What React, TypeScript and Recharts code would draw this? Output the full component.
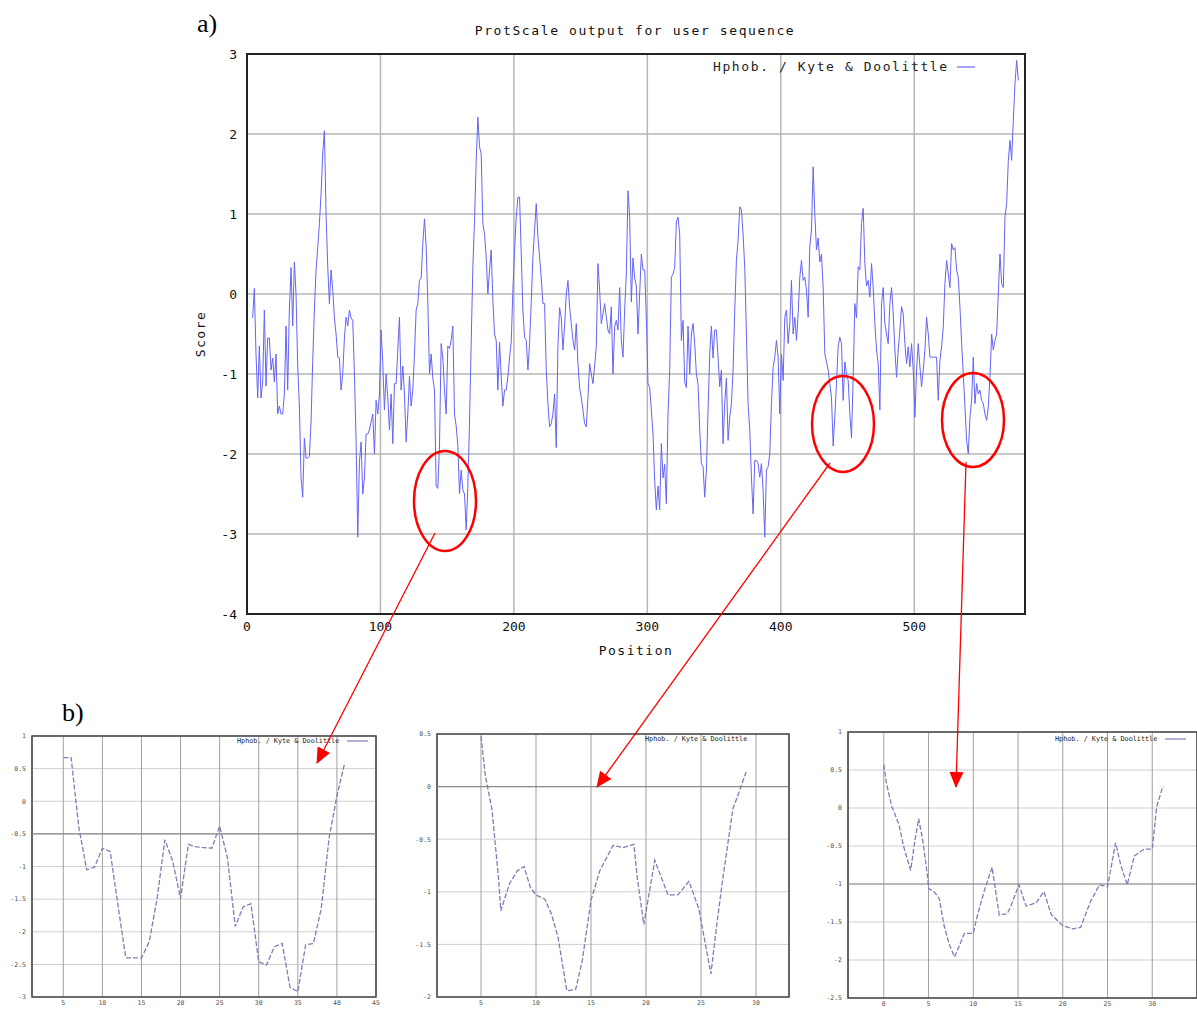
import {
  CartesianGrid,
  Legend,
  Line,
  LineChart,
  ReferenceArea,
  ReferenceLine,
  XAxis,
  YAxis,
} from "recharts";

// main profile: hydropathy score sampled every 1.25 residues from position 4.25
const START_POS = 4.25;
const POS_STEP = 1.25;
const scores = [
  -0.3, 0.07, -0.75, -1.3, -0.65, -1.3, -1.1, -0.2, -1.15, -0.55, -0.55, -0.95, -0.8, -1.1, -0.75, -1.5, -1.4, -1.5, -1.5, -1.25,
  -0.4, -1.2, -0.2, 0.33, -0.4, 0.4, 0.0, -0.9, -1.4, -2.3, -2.54, -1.8, -2.05, -2.05, -2.03, -1.6, -0.83, -0.2, 0.3, 0.58,
  0.88, 1.25, 1.75, 2.04, 1.0, 0.34, -0.12, 0.3, 0.05, -0.3, -0.5, -0.79, -0.8, -1.2, -1.0, -0.55, -0.29, -0.4, -0.2, -0.3,
  -0.33, -1.0, -1.83, -3.04, -2.1, -1.85, -2.5, -2.3, -1.75, -1.75, -1.7, -1.6, -1.5, -2.0, -1.33, -1.5, -1.25, -0.45, -0.87, -1.45,
  -1.0, -1.3, -1.7, -1.25, -1.87, -1.12, -1.12, -0.7, -0.29, -1.2, -0.9, -1.25, -1.85, -1.5, -1.03, -1.4, -1.2, -0.75, -0.2, -0.12,
  0.17, 0.2, 0.63, 0.94, 0.6, -0.1, -1.0, -0.75, -1.05, -1.2, -2.4, -2.43, -1.9, -0.62,
  -0.8, -1.2, -1.5, -0.65, -0.68, -0.58, -0.4, -1.5, -1.65, -1.9, -2.5, -2.2, -2.45, -2.5, -2.95, -2.4, -1.6, -0.6, 0.34, 0.92,
  1.67, 2.21, 1.84, 1.75, 0.88, 0.75, 0.46, 0.0, 0.3, 0.55, -0.08, -0.5, -0.58, -1.2, -0.6, -1.03, -1.4, -1.2, -1.2, -1.03,
  -0.8, -0.6, 0.05, 0.55, 0.96, 1.21, 1.21, 0.5, -0.2, -0.54, -0.58, -0.95, -0.62, -0.1, 0.46, 0.8, 1.13, 0.71, 0.46, 0.2,
  -0.12, -0.12, -0.95, -1.37, -1.66, -1.62, -1.5, -1.25, -1.92, -0.66, -0.17, -0.3, -0.7, -0.4, 0.0, 0.17, -0.16, -0.37, -0.58, -0.7,
  -0.37, -0.87, -1.17, -1.3, -1.45, -1.62, -1.66, -1.29, -0.87, -1.0, -1.12, -0.9, -0.66, 0.38, 0.05, -0.37, -0.25, -0.12, -0.29, -0.45,
  -0.5, -0.16, -1.0, -0.41, -0.33, -0.45, 0.08, -0.58, -0.79, -0.2, 0.25, 1.29, 0.96,
  -0.1, 0.45, 0.2, 0.1, -0.5, 0.0, 0.5, 0.3, 0.3, -0.3, -1.12, -1.17, -1.45, -1.75, -2.33, -2.7, -2.4, -2.7, -1.87, -2.3,
  -2.13, -2.62, -1.5, -0.95, 0.21, 0.25, 0.33, 0.9, 0.96, 0.75, -0.58, -0.33, -1.1, -1.17, -0.4, -1.0, -0.5, -0.37, -0.62, -1.0,
  -1.13, -1.7, -2.12, -2.16, -2.54, -2.2, -1.45, -0.75, -0.4, -0.8, -0.45, -0.45, -0.8, -1.16, -0.95, -1.87, -1.37, -1.05, -1.83, -1.54,
  -1.37, -0.95, -0.2, 0.42, 0.67, 1.09, 1.05, 0.75, 0.33, -0.5, -1.37, -1.7, -2.29, -2.75, -2.08, -2.08, -2.12, -2.29, -2.12, -2.45,
  -3.04, -2.2, -2.16, -2.0, -1.37, -0.92, -0.79, -0.58, -0.79, -1.5, -0.75, -1.08, -0.29, -0.2, -0.62, -0.37, 0.17, -0.5, -0.29, -0.58,
  -0.25, 0.21, 0.42, 0.17, 0.21, 0.05, -0.29,
  0.6, 0.8, 1.59, 1.0, 0.55, 0.7, 0.4, 0.5, 0.08, -0.75, -0.85, -0.95, -1.12, -1.3, -1.9, -1.53, -1.1, -0.66, -0.54, -0.62,
  -1.33, -0.85, -1.0, -1.08, -1.5, -1.8, -1.04, -0.12, -0.3, 0.34, 0.3, 0.88, 1.07, 0.38, 0.1, 0.17, -0.04, 0.38, 0.08, -0.37,
  -0.7, -0.87, -1.45, -0.12, 0.08, -0.37, -0.5, -0.62, -0.12, 0.08, -0.25, -0.7, -1.04, -0.7, -0.45, -0.16, -0.25, -0.62, -0.87, -0.66,
  -0.91, -0.62, -0.95, -1.54, -0.95, -0.62, -0.91, -1.16, -0.95, -0.7, -0.29, -0.5, -0.79, -0.79, -0.79, -0.79, -0.79, -1.33, -0.83, -0.66,
  -0.41, 0.13, 0.42, 0.25, 0.08, 0.63, 0.55, 0.58, 0.3, 0.21, -0.16, -0.62, -1.0, -1.41, -1.83, -2.0, -1.54, -1.33, -0.79, -1.37,
  -1.12, -1.25, -1.2, -1.33, -1.37, -1.5, -1.58, -1.41, -1.04, -0.5, -0.7, -0.58, -0.5, 0.0, 0.5, 0.13, 0.08, 0.96, 1.13, 1.67,
  1.92, 1.67, 2.17, 2.63, 2.92, 2.67,
];
const xTicks = [0, 100, 200, 300, 400, 500];
const yTicks = [-4, -3, -2, -1, 0, 1, 2, 3];
const SERIES = "Hphob. / Kyte & Doolittle";

// zoomed windows (b)
const win1Pos = [5, 6, 7, 8, 9, 10, 11, 12, 13, 14, 15, 16, 17, 18, 19, 20, 21, 22, 23, 24, 25, 26, 27, 28, 29, 30, 31, 32, 33, 34, 35, 36, 37, 38, 39, 40, 41];
const win1Score = [0.67, 0.67, -0.41, -1.05, -1.01, -0.72, -0.77, -1.6, -2.4, -2.4, -2.4, -2.15, -1.49, -0.59, -0.92, -1.49, -0.66, -0.7, -0.71, -0.72, -0.38, -0.87, -1.92, -1.62, -1.57, -2.46, -2.51, -2.23, -2.18, -2.85, -2.92, -2.2, -2.18, -1.64, -0.56, 0.08, 0.59];
const win1XTicks = [5, 10, 15, 20, 25, 30, 35, 40, 45];
const win1YTicks = [-3, -2.5, -2, -1.5, -1, -0.5, 0, 0.5, 1];

const win2Pos = [5, 5.4, 6, 6.6, 6.8, 7.6, 8.3, 8.9, 9.5, 10, 10.8, 11.4, 12, 12.8, 13.6, 14.2, 15, 15.8, 16.4, 17, 17.9, 18.9, 19.2, 19.8, 20.8, 22, 22.9, 23.9, 24.8, 25.9, 26.4, 27, 27.9, 28.3, 29.1];
const win2Score = [0.48, 0.1, -0.22, -0.88, -1.18, -0.92, -0.8, -0.76, -0.96, -1.03, -1.07, -1.21, -1.43, -1.94, -1.93, -1.66, -1.08, -0.8, -0.68, -0.56, -0.58, -0.55, -0.86, -1.31, -0.7, -1.03, -1.03, -0.9, -1.16, -1.78, -1.34, -0.86, -0.21, -0.1, 0.14];
const win2XTicks = [5, 10, 15, 20, 25, 30];
const win2YTicks = [-2, -1.5, -1, -0.5, 0, 0.5];

const win3Pos = [0, 0.3, 0.9, 1.7, 2.2, 3, 3.5, 3.9, 4.4, 4.9, 5, 5.6, 6.2, 6.7, 7.3, 7.9, 8.6, 9, 10, 10.4, 11.2, 12.1, 12.9, 13.8, 14.2, 15.1, 15.9, 17, 17.9, 18.7, 20, 21.1, 22, 23.1, 24.1, 25, 25.9, 26.5, 27.2, 28, 29.1, 30, 30.5, 31.2];
const win3Score = [0.57, 0.32, 0.02, -0.22, -0.5, -0.82, -0.41, -0.14, -0.46, -0.91, -1.06, -1.1, -1.19, -1.53, -1.79, -1.96, -1.77, -1.65, -1.65, -1.44, -1.1, -0.78, -1.41, -1.39, -1.29, -1.01, -1.29, -1.25, -1.1, -1.4, -1.55, -1.59, -1.57, -1.23, -1.01, -1.04, -0.46, -0.76, -1.01, -0.63, -0.54, -0.54, 0.02, 0.29];
const win3XTicks = [0, 5, 10, 15, 20, 25, 30];
const win3YTicks = [-2.5, -2, -1.5, -1, -0.5, 0, 0.5, 1];

const MONO = "'DejaVu Sans Mono', 'Liberation Mono', monospace";
const SERIF = "'Liberation Serif', 'DejaVu Serif', serif";
const LINE_BLUE = "#6464f6";
const ZOOM_LINE = "#7e7eb4";

const mainData = scores.map((score, i) => ({ pos: START_POS + i * POS_STEP, score }));

const legendContent =
  (fontSize: number, spacing: number, sampleWidth: number, color: string, dashed: boolean) =>
  (props: any) => (
    <div
      style={{
        display: "flex",
        alignItems: "center",
        fontFamily: MONO,
        fontSize,
        letterSpacing: spacing,
        color: "#222",
        whiteSpace: "nowrap",
      }}
    >
      <span>{props.payload?.[0]?.value}</span>
      {sampleWidth > 0 && (
        <svg width={sampleWidth + 8} height={6} style={{ marginLeft: 2 }}>
          <line
            x1={6}
            x2={sampleWidth + 6}
            y1={3}
            y2={3}
            stroke={color}
            strokeWidth={1.2}
            strokeDasharray={dashed ? "3 1" : undefined}
          />
        </svg>
      )}
    </div>
  );

const MainChart = () => (
  <LineChart width={870} height={680} data={mainData} margin={{ top: 54, right: 25, bottom: 16, left: 17 }}>
    <CartesianGrid stroke="#b6b6b6" strokeWidth={1.5} />
    <XAxis
      type="number"
      dataKey="pos"
      domain={[0, 583]}
      ticks={xTicks}
      allowDataOverflow
      height={50}
      tickLine={false}
      axisLine={false}
      tick={{ fontFamily: MONO, fontSize: 13, fill: "#111" }}
      label={{
        content: (p: any) => (
          <text
            x={p.viewBox.x + p.viewBox.width / 2}
            y={p.viewBox.y + 41}
            textAnchor="middle"
            fontFamily={MONO}
            fontSize={13}
            letterSpacing={1.5}
            fill="#111"
          >
            Position
          </text>
        ),
      }}
    />
    <YAxis
      type="number"
      domain={[-4, 3]}
      ticks={yTicks}
      width={50}
      tickLine={false}
      axisLine={false}
      tickMargin={4}
      tick={{ fontFamily: MONO, fontSize: 13, fill: "#111" }}
      label={{
        content: (p: any) => {
          const x = p.viewBox.x + 8;
          const y = p.viewBox.y + p.viewBox.height / 2;
          return (
            <text
              x={x}
              y={y}
              transform={`rotate(-90, ${x}, ${y})`}
              textAnchor="middle"
              fontFamily={MONO}
              fontSize={13}
              letterSpacing={1.5}
              fill="#111"
            >
              Score
            </text>
          );
        },
      }}
    />
    <ReferenceArea x1={0} x2={583} y1={-4} y2={3} fill="none" stroke="#222" strokeWidth={2} />
    <Legend
      layout="horizontal"
      verticalAlign="middle"
      align="center"
      wrapperStyle={{ left: 533, top: 59, width: "auto", height: "auto" }}
      content={legendContent(13, 1.6, 18, LINE_BLUE, false)}
    />
    <Line
      type="linear"
      dataKey="score"
      name={SERIES}
      stroke={LINE_BLUE}
      strokeWidth={1}
      dot={false}
      isAnimationActive={false}
    />
  </LineChart>
);

interface PanelProps {
  width: number;
  height: number;
  margin: { top: number; right: number; bottom: number; left: number };
  xs: number[];
  ys: number[];
  xDomain: [number, number];
  yDomain: [number, number];
  xTicks: number[];
  yTicks: number[];
  strongY: number;
  legendLeft: number;
  legendTop: number;
  sample: number;
}

const ZoomPanel = ({
  width,
  height,
  margin,
  xs,
  ys,
  xDomain,
  yDomain,
  xTicks: xt,
  yTicks: yt,
  strongY,
  legendLeft,
  legendTop,
  sample,
}: PanelProps) => {
  const data = xs.map((x, i) => ({ x, y: ys[i] }));
  const tickStyle = { fontFamily: MONO, fontSize: 6.5, fill: "#555" };
  return (
    <LineChart width={width} height={height} data={data} margin={margin}>
      <CartesianGrid vertical={false} stroke="#cfcfcf" strokeWidth={1} />
      <CartesianGrid horizontal={false} stroke="#a0a0a0" strokeWidth={1} />
      <XAxis
        type="number"
        dataKey="x"
        domain={xDomain}
        ticks={xt}
        allowDataOverflow
        height={12}
        tickLine={false}
        axisLine={false}
        tickSize={2}
        tickMargin={1}
        tick={tickStyle}
      />
      <YAxis
        type="number"
        domain={yDomain}
        ticks={yt}
        allowDataOverflow
        width={28}
        tickLine={false}
        axisLine={false}
        tickSize={3}
        tickMargin={3}
        tick={tickStyle}
      />
      <ReferenceLine y={strongY} stroke="#8a8a8a" strokeWidth={1.2} />
      <ReferenceArea
        x1={xDomain[0]}
        x2={xDomain[1]}
        y1={yDomain[0]}
        y2={yDomain[1]}
        fill="none"
        stroke="#444"
        strokeWidth={1.5}
      />
      <Legend
        layout="horizontal"
        verticalAlign="middle"
        align="center"
        wrapperStyle={{ left: legendLeft, top: legendTop, width: "auto", height: "auto" }}
        content={legendContent(6.8, 0, sample, ZOOM_LINE, false)}
      />
      <Line
        type="linear"
        dataKey="y"
        name={SERIES}
        stroke={ZOOM_LINE}
        strokeWidth={1.3}
        strokeDasharray="5 2"
        dot={false}
        isAnimationActive={false}
      />
    </LineChart>
  );
};

const Annotations = () => (
  <svg width={1197} height={1010} style={{ position: "absolute", left: 0, top: 0, pointerEvents: "none" }}>
    <defs>
      <marker id="head" markerWidth="16" markerHeight="14" refX="15" refY="7" orient="auto" markerUnits="userSpaceOnUse">
        <path d="M0,0 L16,7 L0,14 Z" fill="#ff0000" />
      </marker>
    </defs>
    <text x={635} y={35} textAnchor="middle" fontFamily={MONO} fontSize={13} letterSpacing={1.6} fill="#111">
      ProtScale output for user sequence
    </text>
    <text x={197} y={32} fontFamily={SERIF} fontSize={26} fill="#000">
      a)
    </text>
    <text x={62} y={721} fontFamily={SERIF} fontSize={26} fill="#000">
      b)
    </text>
    <ellipse cx={445} cy={501} rx={31} ry={50} fill="none" stroke="#ff0000" strokeWidth={2.5} />
    <ellipse cx={843} cy={424} rx={31} ry={48} fill="none" stroke="#ff0000" strokeWidth={2.5} />
    <ellipse cx={973} cy={420} rx={31} ry={47} fill="none" stroke="#ff0000" strokeWidth={2.5} />
    <line x1={435} y1={533} x2={317} y2={763} stroke="#ff0000" strokeWidth={1.3} markerEnd="url(#head)" />
    <line x1={830} y1={463} x2={597} y2={787} stroke="#ff0000" strokeWidth={1.3} markerEnd="url(#head)" />
    <line x1={966} y1={462} x2={956} y2={787} stroke="#ff0000" strokeWidth={1.3} markerEnd="url(#head)" />
  </svg>
);

export default function App() {
  return (
    <div
      style={{
        position: "absolute",
        left: 0,
        top: 0,
        width: 1197,
        height: 1010,
        overflow: "hidden",
        background: "#fff",
      }}
    >
      <div style={{ position: "absolute", left: 180, top: 0 }}>
        <MainChart />
      </div>
      <div style={{ position: "absolute", left: 0, top: 725 }}>
        <ZoomPanel
          width={390}
          height={285}
          margin={{ top: 11, right: 14, bottom: 1, left: 4 }}
          xs={win1Pos}
          ys={win1Score}
          xDomain={[1, 45]}
          yDomain={[-3, 1]}
          xTicks={win1XTicks}
          yTicks={win1YTicks}
          strongY={-0.5}
          legendLeft={237}
          legendTop={12}
          sample={21}
        />
      </div>
      <div style={{ position: "absolute", left: 405, top: 725 }}>
        <ZoomPanel
          width={390}
          height={285}
          margin={{ top: 9, right: 6, bottom: 1, left: 4 }}
          xs={win2Pos}
          ys={win2Score}
          xDomain={[1, 33]}
          yDomain={[-2, 0.5]}
          xTicks={win2XTicks}
          yTicks={win2YTicks}
          strongY={0}
          legendLeft={240}
          legendTop={10}
          sample={0}
        />
      </div>
      <div style={{ position: "absolute", left: 815, top: 725 }}>
        <ZoomPanel
          width={400}
          height={285}
          margin={{ top: 7, right: 18, bottom: 0, left: 5 }}
          xs={win3Pos}
          ys={win3Score}
          xDomain={[-4, 35]}
          yDomain={[-2.5, 1]}
          xTicks={win3XTicks}
          yTicks={win3YTicks}
          strongY={-1}
          legendLeft={240}
          legendTop={10}
          sample={21}
        />
      </div>
      <Annotations />
    </div>
  );
}
